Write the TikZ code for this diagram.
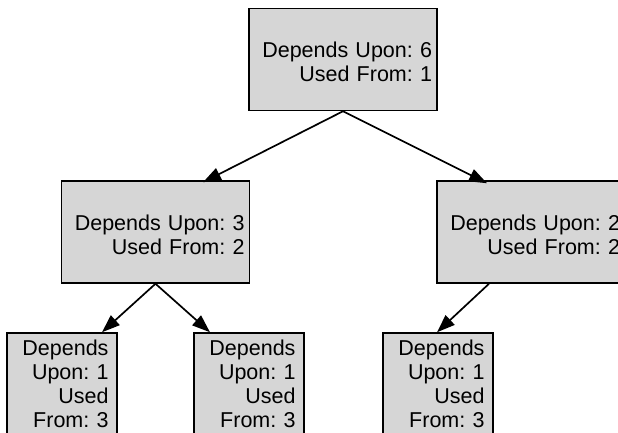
\documentclass[tikz,border=0pt]{standalone}
\usepackage{fontspec}
\setmainfont{Liberation Sans}
\usetikzlibrary{positioning, arrows.meta}
\definecolor{boxGrey}{HTML}{D6D6D6}

\tikzset{
  depbox/.style={draw=black, fill=boxGrey, line width=1.5pt, align=right,
    font={\fontsize{21.5}{24}\selectfont\frenchspacing}, inner ysep=0pt},
  widebox/.style={depbox, minimum width=188pt, minimum height=102pt,
    inner xsep=5pt, text width=178pt,
    execute at begin node={\rule{0pt}{21pt}}},
  leafbox/.style={depbox, minimum width=110pt, minimum height=102pt,
    inner xsep=8.5pt, text width=93pt},
  uses/.style={line width=1.7pt, -{Triangle[length=18pt, width=13pt]}}
}

\begin{document}
\begin{tikzpicture}[x=1pt, y=-1pt]
    \useasboundingbox (0,0) rectangle (618,433);
    \clip (0,0) rectangle (618,433);

    % niveaux
    \node[widebox] (root) at (343,59.5) {Depends Upon: 6\\Used From: 1};
    \node[widebox] (depA) at (155.5,232) {Depends Upon: 3\\Used From: 2};
    \node[widebox] (depB) at (531,232) {Depends Upon: 2\\Used From: 2};

    \node[leafbox] (leafA) at (62,384) {Depends\\Upon: 1\\Used\\From: 3};
    \node[leafbox] (leafB) at (249,384) {Depends\\Upon: 1\\Used\\From: 3};
    \node[leafbox] (leafC) at (438,384) {Depends\\Upon: 1\\Used\\From: 3};

    % liens
    \draw[uses] (root.south) -- ([xshift=47.5pt, yshift=-2pt]depA.north);
    \draw[uses] (root.south) -- ([xshift=-44pt, yshift=-3pt]depB.north);
    \draw[uses] (depA.south) -- ([xshift=40pt]leafA.north);
    \draw[uses] (depA.south) -- ([xshift=-39pt]leafB.north);
    \draw[uses] ([xshift=-42pt]depB.south) -- ([xshift=-1pt]leafC.north);
  \end{tikzpicture}
\end{document}
